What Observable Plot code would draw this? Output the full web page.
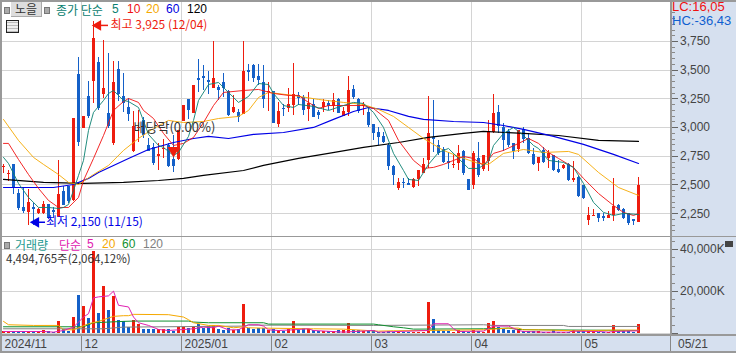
<!DOCTYPE html>
<html><head><meta charset="utf-8">
<script src="https://cdn.jsdelivr.net/npm/d3@7"></script>
<script src="https://cdn.jsdelivr.net/npm/@observablehq/plot@0.6"></script>
<style>
html,body{margin:0;padding:0;background:#fff;width:736px;height:353px;overflow:hidden}
#wrap{position:relative;width:736px;height:353px;font-family:"Noto Sans CJK KR","Liberation Sans",sans-serif;font-size:12px}
#wrap>*{position:absolute}
svg{display:block;background:transparent}
.lab{white-space:pre;line-height:13px;height:13px}
.num{font-family:"Liberation Sans",sans-serif;font-size:12px}
.sq{width:4px;height:5px;background:#aaa;border:1px solid #777}
</style></head><body>
<div id="wrap">
<div style="left:670px;top:0;width:66px;height:353px;background:#d6e0ef"></div>
<div style="left:0;top:334px;width:736px;height:19px;background:#d6e0ef"></div>
<div id="topChart" style="left:0;top:0"></div>
<div id="botChart" style="left:0;top:236px"></div>
<div style="left:0;top:0;width:734px;height:349px;border:1px solid #999;border-width:2px 1px 2px 2px;pointer-events:none"></div>
<div style="left:0;top:236px;width:736px;height:1px;background:#999"></div>
<div style="left:0;top:334px;width:736px;height:2px;background:#999"></div>
<div style="left:670px;top:0;width:2px;height:334px;background:#999"></div>

<div class="sq" style="left:4px;top:7px"></div>
<div class="lab" style="left:11px;top:2px;width:30px;height:14px;line-height:14px;background:#ddd;border-bottom:1px solid #aaa;border-right:1px solid #aaa;text-align:center;color:#333">노을</div>
<div class="sq" style="left:44px;top:7px"></div>
<div class="lab" style="left:56px;top:3px;color:#0a8070">종가 단순</div>
<div class="lab num" style="left:112px;top:3px;color:#0a8070">5</div>
<div class="lab num" style="left:127px;top:3px;color:#f01010">10</div>
<div class="lab num" style="left:146px;top:3px;color:#f5a800">20</div>
<div class="lab num" style="left:166px;top:3px;color:#0000e0">60</div>
<div class="lab num" style="left:187px;top:3px;color:#000">120</div>
<div style="left:6px;top:20px;width:11px;height:11px;border:1px solid #222;background:repeating-linear-gradient(0deg,#bbb 0 1px,#eee 1px 3px)"></div>

<div class="lab num" style="left:672px;top:0;color:#f01010;font-size:13px">LC:16,05</div>
<div class="lab num" style="left:672px;top:14px;color:#0f5fd0;font-size:13px">HC:-36,43</div>

<div class="sq" style="left:4px;top:242px"></div>
<div class="lab" style="left:15px;top:238px;color:#1f9a90">거래량</div>
<div class="lab" style="left:59px;top:238px;color:#e020b0">단순</div>
<div class="lab num" style="left:87px;top:238px;color:#e020b0">5</div>
<div class="lab num" style="left:102px;top:238px;color:#f5a800">20</div>
<div class="lab num" style="left:122px;top:238px;color:#109030">60</div>
<div class="lab num" style="left:143px;top:238px;color:#808080">120</div>
<div class="lab" style="left:6px;top:252px;color:#333;font-size:11.5px">4,494,765주(2,064,12%)</div>
<div style="left:725px;top:241px;width:8px;height:6px;background:#444"></div>
</div>
<script>
const opens=[2653,2592,2679,2426,2304,2261,2304,2252,2252,2330,2278,2217,2443,2487,2365,3463,2992,3271,3402,3567,3288,3123,2862,3506,3271,3175,2792,2992,3062,2844,2827,2749,2809,2844,2722,2722,3053,3245,3123,3428,3445,3410,3341,3349,3393,3314,3132,3132,3114,3497,3541,3445,3393,3306,3314,3027,3166,3166,3192,3280,3262,3158,3201,3132,3175,3210,3184,3245,3097,3132,3332,3245,3184,3132,3027,2957,2923,2844,2661,2470,2522,2513,2478,2548,2600,2714,2914,2844,2809,2705,2670,2687,2792,2548,2496,2731,2635,2705,2957,3132,3001,2966,2862,2809,2984,2905,2766,2687,2801,2731,2757,2635,2644,2679,2539,2565,2496,2191,2226,2252,2226,2208,2234,2321,2287,2252,2200,2173];
const highs=[2679,2626,2679,2461,2478,2461,2339,2295,2356,2330,2304,2714,2487,2487,3079,3611,3097,3402,3925,3611,3759,3645,3576,3576,3471,3253,3140,3149,3088,2905,2862,2862,2897,2862,2931,2975,3192,3245,3367,3593,3541,3489,3750,3367,3471,3323,3280,3158,3750,3550,3550,3550,3541,3393,3314,3219,3201,3341,3558,3306,3280,3306,3245,3149,3245,3236,3297,3253,3175,3445,3367,3253,3219,3175,3027,3001,2957,2862,2670,2557,2557,2557,2557,2626,2731,3271,3236,2888,2827,2783,2757,2844,2801,2548,2792,2870,2757,3062,3288,3192,3036,2984,2862,2975,3001,2949,2818,2740,2827,2801,2757,2714,2679,2687,2705,2574,2496,2304,2287,2252,2252,2269,2557,2330,2295,2252,2200,2565];
const lows=[2600,2531,2417,2278,2252,2150,2150,2243,2243,2200,2208,2217,2321,2339,2356,2836,2992,3079,3210,3149,3253,2992,2844,3227,3132,3053,2783,2870,2905,2792,2670,2626,2731,2653,2609,2714,3053,3071,3123,3306,3323,3288,3341,3236,3262,3097,3123,3044,3114,3402,3393,3367,3166,3140,3036,3001,3097,3132,3105,3192,3105,3053,3088,3071,3132,3149,3132,3123,3097,3097,3245,3123,3105,3001,2888,2844,2862,2626,2496,2452,2470,2496,2470,2487,2600,2644,2783,2757,2687,2635,2644,2626,2583,2452,2461,2565,2618,2618,2949,2949,2792,2827,2722,2783,2862,2766,2670,2618,2687,2644,2618,2600,2635,2531,2522,2391,2374,2147,2226,2173,2182,2208,2182,2269,2200,2147,2147,2173];
const closes=[2661,2600,2470,2295,2269,2348,2287,2287,2330,2208,2261,2417,2321,2356,3079,2870,3097,3097,3776,3166,3341,3010,3393,3288,3210,3114,3010,3001,2931,2792,2687,2766,2818,2661,2661,2975,3192,3149,3367,3410,3428,3393,3428,3323,3341,3105,3175,3088,3489,3480,3428,3410,3245,3314,3036,3140,3158,3201,3288,3253,3149,3210,3088,3105,3219,3184,3236,3123,3140,3323,3262,3140,3201,3018,2949,2914,2870,2661,2583,2522,2513,2496,2548,2626,2679,2949,2897,2775,2696,2687,2679,2775,2600,2452,2775,2583,2757,2966,3123,3010,2888,2844,2792,2975,2897,2775,2679,2740,2696,2775,2626,2609,2670,2539,2557,2400,2382,2234,2234,2208,2208,2234,2313,2278,2208,2165,2182,2496];
const volumes=[960,960,960,960,960,1120,960,960,1280,1120,640,5760,1760,960,7680,18240,12960,7040,39040,9600,22560,11040,17760,6240,5760,3040,6080,4480,1920,1920,1920,1920,1760,1760,960,2880,3040,2240,3040,4160,2560,3520,3840,1920,1440,2240,1440,1760,13920,2240,1920,2240,2400,1440,1760,1440,960,1760,5760,1440,2240,1760,1440,960,1120,1120,1120,1440,1440,4640,1440,1440,960,1440,1440,640,640,1120,640,640,640,640,640,640,640,14560,6720,1440,1120,960,640,1440,1120,640,1440,1120,640,4640,5760,3040,1760,1440,1440,1760,1120,960,960,1120,640,480,1440,640,480,480,1280,960,960,960,960,640,640,480,3840,960,960,960,480,4495];

const ma5K=[0,1,3,5,7,9,11,12,13,14,15,16,17,18,19,20,21,22,24,25,27,29,31,32,34,35,37,38,39,41,43,45,47,49,51,53,54,56,58,59,62,65,68,70,72,74,76,78,80,81,83,85,87,89,91,93,95,97,98,100,102,104,106,107,109,112,114,116,118,120,122,124,127];
const ma5V=[2740,2687,2513,2391,2304,2304,2295,2304,2330,2452,2583,2714,2975,3132,3184,3236,3297,3323,3236,3227,3175,2940,2844,2827,2757,2783,2923,3062,3236,3375,3393,3306,3219,3271,3384,3375,3297,3192,3175,3201,3184,3149,3192,3219,3210,3132,3001,2775,2626,2548,2539,2679,2783,2818,2731,2644,2644,2705,2844,2949,3001,2931,2844,2818,2714,2696,2653,2513,2348,2261,2234,2252,2243];
const ma10K=[0,1,3,5,7,9,11,13,15,16,18,20,22,24,25,27,28,30,32,34,36,38,40,42,44,48,51,54,57,59,61,63,65,72,74,77,79,82,84,86,88,92,94,96,98,100,103,105,107,109,111,114,116,119,122,124,126,127];
const ma10V=[2862,2862,2722,2591,2470,2365,2304,2304,2391,2539,2731,2931,3149,3227,3253,3219,3149,3079,2949,2844,2862,2914,3044,3192,3306,3323,3332,3297,3280,3280,3219,3166,3192,3192,3166,3062,2888,2714,2644,2653,2679,2748,2731,2670,2775,2801,2862,2905,2862,2783,2731,2653,2557,2426,2321,2261,2234,2252];
const ma20K=[0,3,6,8,11,13,15,18,21,24,27,30,33,36,40,43,47,49,51,53,58,63,68,72,75,78,81,84,88,91,95,97,100,104,108,113,115,119,123,127];
const ma20V=[3071,2888,2740,2679,2591,2522,2504,2591,2670,2801,2905,2992,3062,3044,3053,3079,3097,3149,3262,3306,3280,3245,3219,3201,3158,3097,3001,2905,2801,2748,2687,2679,2775,2809,2783,2792,2766,2609,2478,2409];
const ma60K=[0,10,14,17,19,22,25,29,34,38,41,45,50,56,62,66,70,73,77,81,84,90,96,100,104,110,116,122,127];
const ma60V=[2478,2478,2504,2557,2609,2670,2731,2809,2870,2905,2923,2905,2940,2957,3001,3071,3140,3175,3149,3097,3071,3053,3044,3018,2984,2923,2853,2766,2687];
const ma120K=[0,8,16,24,31,36,40,48,52,59,65,72,79,85,92,96,104,111,119,127];
const ma120V=[2548,2522,2513,2522,2539,2557,2583,2626,2670,2731,2775,2827,2870,2914,2949,2966,2949,2931,2888,2879];

const vol5K=[0,8,10,12,14,16,17,18,19,21,22,23,25,26,27,29,31,33,35,38,40,42,43,45,47,48,49,51,52,53,55,58,61,62,68,74,75,85,86,89,90,91,96,98,101,103,104,108,113,114,119,121,122,127];
const vol5V=[960,960,640,1440,3040,7840,9440,16960,17440,17920,20160,13440,12640,7840,5120,3840,1920,1440,1760,2240,3040,2720,3520,1760,1760,3040,4160,4160,3520,1760,1440,1760,2240,1440,640,1440,640,1440,4640,4640,2240,960,1120,3520,3520,1440,960,640,640,1120,960,640,960,1280];
const vol20K=[0,1,6,11,12,14,17,19,21,22,24,25,26,33,36,37,38,41,43,46,48,49,52,62,68,75,78,85,96,99,101,103,104,107,114,122,127];
const vol20V=[5760,4160,3840,3840,1760,1760,4640,5760,7360,8160,8480,8480,9120,8960,7840,6560,5120,3840,3840,2720,3200,2720,2560,2240,2080,1120,1280,1440,1760,2240,2560,2560,1760,1760,1280,1600,1600];
const vol60K=[0,16,18,24,26,37,38,41,48,52,53,74,75,78,80,82,96,101,103,107,127];
const vol60V=[3200,3200,5120,5760,5920,5920,5440,5120,5120,5120,4480,4480,4160,3200,2720,2080,2240,2560,1920,1760,1440];
const vol120K=[0,20,24,48,49,74,96,98,112,113,127];
const vol120V=[2240,2240,3040,3520,4000,3840,4160,3840,3840,3360,3360];

const monthStarts=[0,16,36,54,74,94,116];
const monthLabels=["2024/11","12","2025/01","02","03","04","05"];
const lastLabel="05/21";
const priceTicks=[2250,2500,2750,3000,3250,3500,3750];
const priceMinor=d3.range(2100,4050,50);
const volTicks=[0,20000,40000];
const volMinor=d3.range(0,46000,4000);

const RED="#ee1c0e",BLUE="#1460c8";
const candles=opens.map((o,i)=>({i,o,h:highs[i],l:lows[i],c:closes[i],v:volumes[i],up:closes[i]>=o}));
const colr=d=>d.up?RED:BLUE;
const pts=(K,V)=>K.map((k,j)=>({k,v:V[j]}));
const xs={domain:[0,133.4],range:[3,670]};
const FF='"Liberation Sans",sans-serif';
const KF='"Noto Sans CJK KR",sans-serif';

const topPlot=Plot.plot({
  width:736,height:236,marginLeft:0,marginRight:0,marginTop:0,marginBottom:0,
  style:{background:"transparent",fontFamily:FF,fontSize:"12px"},
  x:{...xs,axis:null},
  y:{domain:[2051,4107],range:[236,0],axis:null},
  marks:[
    Plot.ruleY(priceTicks,{x1:-0.6,x2:133.4,y:d=>d,stroke:"#d4d4d4",shapeRendering:"crispEdges"}),
    Plot.ruleX(monthStarts.slice(1),{x:d=>d,dx:-2,stroke:"#d4d4d4",shapeRendering:"crispEdges"}),
    Plot.ruleX(candles,{x:"i",y1:"l",y2:"h",stroke:colr,strokeWidth:1,shapeRendering:"crispEdges"}),
    Plot.ruleX(candles,{x:"i",y1:"o",y2:"c",stroke:colr,strokeWidth:3,shapeRendering:"crispEdges"}),
    Plot.line(pts(ma120K,ma120V),{x:"k",y:"v",stroke:"#000",strokeWidth:1.2,strokeOpacity:1}),
    Plot.line(pts(ma60K,ma60V),{x:"k",y:"v",stroke:"#0000e6",strokeWidth:1.2}),
    Plot.line(pts(ma20K,ma20V),{x:"k",y:"v",stroke:"#f5a800",strokeWidth:0.9}),
    Plot.line(pts(ma10K,ma10V),{x:"k",y:"v",stroke:"#f01010",strokeWidth:0.9}),
    Plot.line(pts(ma5K,ma5V),{x:"k",y:"v",stroke:"#0a8070",strokeWidth:0.9}),
    Plot.ruleY([{a:18.8,b:21,p:3890}],{x1:"a",x2:"b",y:"p",stroke:"#ee1c0e",strokeWidth:1.5}),
    Plot.dot([{k:18.9,p:3890}],{x:"k",y:"p",symbol:"triangle",r:4,rotate:-90,fill:"#ee1c0e",stroke:null}),
    Plot.text([{k:21.4,p:3890,t:"최고 3,925 (12/04)"}],{x:"k",y:"p",text:"t",textAnchor:"start",fill:"#ee1c0e",fontFamily:KF,fontSize:12}),
    Plot.ruleY([{a:6.4,b:8.4,p:2175}],{x1:"a",x2:"b",y:"p",stroke:"#0000e6",strokeWidth:1.5}),
    Plot.dot([{k:6.5,p:2175}],{x:"k",y:"p",symbol:"triangle",r:4,rotate:-90,fill:"#0000e6",stroke:null}),
    Plot.text([{k:8.5,p:2175,t:"최저 2,150 (11/15)"}],{x:"k",y:"p",text:"t",textAnchor:"start",fill:"#0000e6",fontFamily:KF,fontSize:12}),
    Plot.dot([{k:34,p:2800}],{x:"k",y:"p",symbol:"triangle",r:4.5,rotate:180,fill:"#ee1c0e",stroke:null}),
    Plot.text([{k:26,p:3000,t:"배당락(0.00%)"}],{x:"k",y:"p",text:"t",textAnchor:"start",fill:"#333",fontFamily:KF,fontSize:13}),
    Plot.ruleY(priceMinor,{x1:133.8,x2:134.4,y:d=>d,stroke:"#888",shapeRendering:"crispEdges"}),
    Plot.ruleY(priceTicks,{x1:133.8,x2:135.0,y:d=>d,stroke:"#666",shapeRendering:"crispEdges"}),
    Plot.text(priceTicks,{x:135.3,y:d=>d,text:d=>d3.format(",")(d),textAnchor:"start",fill:"#444"})
  ]
});
document.getElementById("topChart").append(topPlot);

const botPlot=Plot.plot({
  width:736,height:117,marginLeft:0,marginRight:0,marginTop:0,marginBottom:20,
  style:{background:"transparent",fontFamily:FF,fontSize:"12px"},
  x:{...xs,axis:null},
  y:{domain:[0,46190],range:[97,0],axis:null},
  marks:[
    Plot.ruleY(volTicks.slice(1),{x1:-0.6,x2:133.4,y:d=>d,stroke:"#d4d4d4",shapeRendering:"crispEdges"}),
    Plot.ruleY([0],{x1:-0.6,x2:133.4,y:d=>d,stroke:"#d4d4d4",shapeRendering:"crispEdges"}),
    Plot.ruleX(monthStarts.slice(1),{x:d=>d,dx:-2,y1:0,y2:46190,stroke:"#d4d4d4",shapeRendering:"crispEdges"}),
    Plot.ruleX(candles,{x:"i",y1:0,y2:"v",stroke:colr,strokeWidth:3,shapeRendering:"crispEdges"}),
    Plot.line(pts(vol120K,vol120V),{x:"k",y:"v",stroke:"#808080",strokeWidth:1}),
    Plot.line(pts(vol60K,vol60V),{x:"k",y:"v",stroke:"#109030",strokeWidth:1}),
    Plot.line(pts(vol20K,vol20V),{x:"k",y:"v",stroke:"#f5a800",strokeWidth:1}),
    Plot.line(pts(vol5K,vol5V),{x:"k",y:"v",stroke:"#e020b0",strokeWidth:1}),
    Plot.ruleY(volMinor,{x1:133.8,x2:134.4,y:d=>d,stroke:"#888",shapeRendering:"crispEdges"}),
    Plot.ruleY(volTicks,{x1:133.8,x2:135.0,y:d=>d,stroke:"#666",shapeRendering:"crispEdges"}),
    Plot.text(volTicks.slice(1),{x:135.3,y:d=>d,text:d=>d3.format(",")(d)+"K",textAnchor:"start",fill:"#444"}),
    Plot.ruleX(monthStarts.slice(1),{x:d=>d,dx:-2,y1:-480,y2:-9000,stroke:"#888",shapeRendering:"crispEdges"}),
    Plot.ruleX([133.4],{x:d=>d,y1:-480,y2:-9000,stroke:"#888",shapeRendering:"crispEdges"}),
    Plot.text(monthStarts,{x:d=>d,y:-5000,dx:1,text:(d,i)=>monthLabels[i],textAnchor:"start",fill:"#444"}),
    Plot.text([lastLabel],{x:134.9,y:-5000,text:d=>d,textAnchor:"start",fill:"#444"})
  ]
});
document.getElementById("botChart").append(botPlot);
</script>
</body></html>
